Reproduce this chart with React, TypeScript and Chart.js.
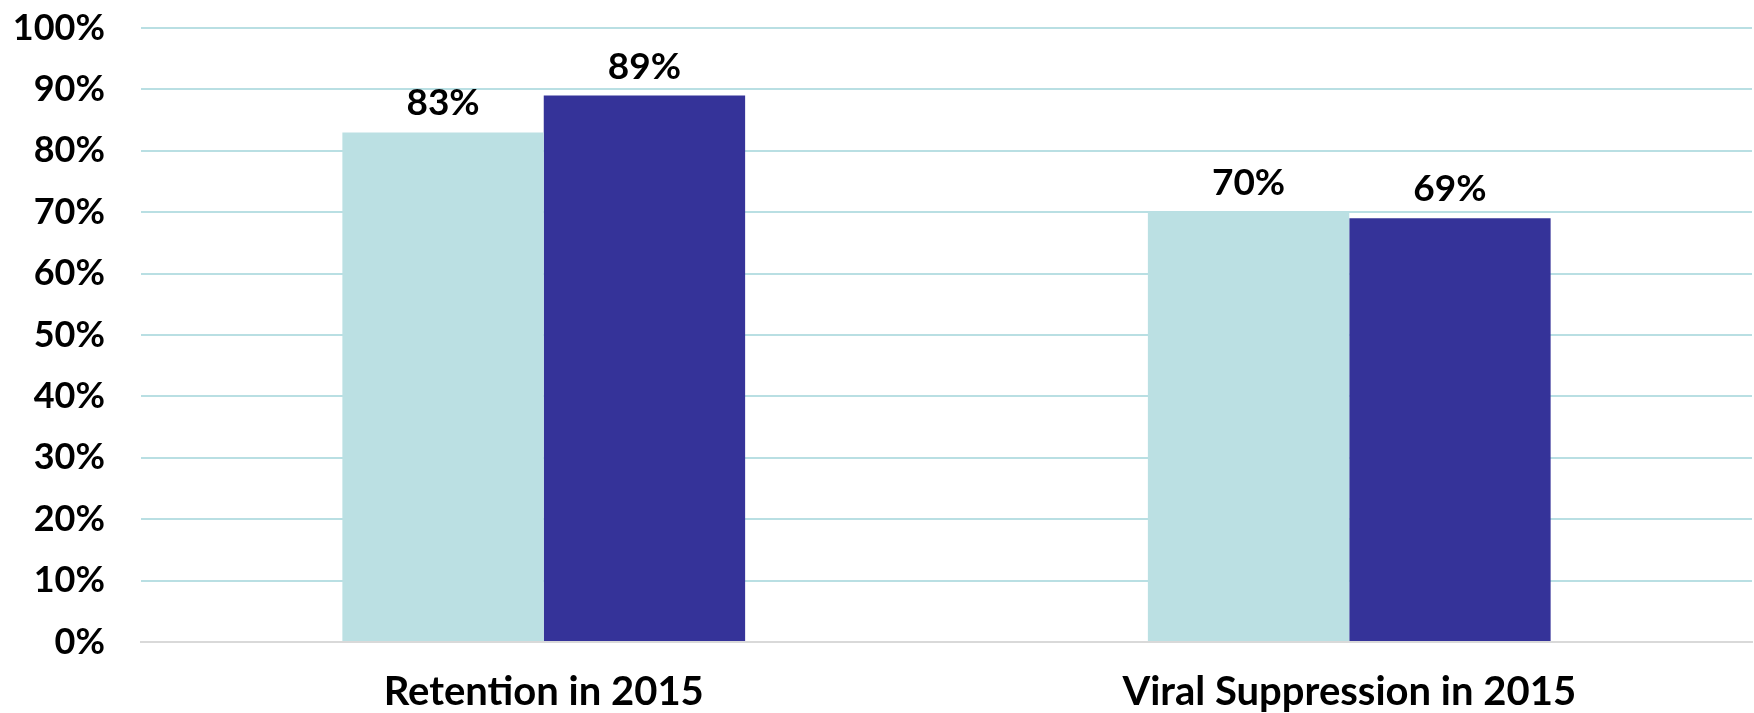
import React, { useEffect, useRef } from "react";
import { Chart, registerables } from "chart.js";

Chart.register(...registerables);

const categories = ["Retention in 2015", "Viral Suppression in 2015"];
const seriesA = [83, 70];
const seriesB = [89, 69];
const yTicks = [0, 10, 20, 30, 40, 50, 60, 70, 80, 90, 100];

const FONT = "Lato, 'Open Sans', sans-serif";

const labelPlugin = {
  id: "barLabels",
  afterDatasetsDraw(chart: any) {
    const ctx = chart.ctx;
    ctx.save();
    ctx.font = `bold 37px ${FONT}`;
    ctx.fillStyle = "#000";
    ctx.textAlign = "center";
    ctx.textBaseline = "alphabetic";
    chart.data.datasets.forEach((ds: any, i: number) => {
      const meta = chart.getDatasetMeta(i);
      meta.data.forEach((el: any, j: number) => {
        ctx.fillText(`${ds.data[j]}%`, el.x, el.y - 17);
      });
    });
    ctx.restore();
  },
};

export default function App() {
  const ref = useRef<HTMLCanvasElement>(null);
  useEffect(() => {
    document.body.style.margin = "0";
    const chart = new Chart(ref.current!, {
      type: "bar",
      data: {
        labels: categories,
        datasets: [
          { label: "A", data: seriesA, backgroundColor: "#BBE0E3", categoryPercentage: 0.5, barPercentage: 1 },
          { label: "B", data: seriesB, backgroundColor: "#353399", categoryPercentage: 0.5, barPercentage: 1 },
        ],
      },
      options: {
        animation: false,
        responsive: false,
        maintainAspectRatio: false,
        layout: { padding: { top: 28, right: 2, left: 0, bottom: 0 } },
        plugins: { legend: { display: false }, tooltip: { enabled: false } },
        scales: {
          x: {
            grid: { display: false, drawTicks: false },
            border: { display: true, color: "#D9D9D9", width: 2 },
            ticks: { color: "#000", font: { family: FONT, size: 40, weight: "bold" }, padding: 26 },
            afterFit(scale: any) { scale.height = 71; scale.paddingLeft = 0; scale.paddingRight = 0; },
          },
          y: {
            min: 0,
            max: 100,
            afterBuildTicks(scale: any) { scale.ticks = yTicks.map((v) => ({ value: v })); },
            grid: {
              drawTicks: false,
              lineWidth: 2,
              color: (c: any) => (c.tick && c.tick.value === 0 ? "#D9D9D9" : "#B9DFE3"),
            },
            border: { display: false },
            ticks: {
              color: "#000",
              font: { family: FONT, size: 36, weight: "bold" },
              padding: 36,
              callback: (v: any) => `${v}%`,
            },
            afterFit(scale: any) { scale.width = 141; scale.paddingTop = 0; scale.paddingBottom = 0; },
          },
        },
      },
      plugins: [labelPlugin],
    });
    return () => chart.destroy();
  }, []);
  return (
    <div style={{ position: "fixed", left: 0, top: 0, width: 1754, height: 713, background: "#fff" }}>
      <canvas ref={ref} width={1754} height={713} style={{ width: 1754, height: 713 }} />
    </div>
  );
}
